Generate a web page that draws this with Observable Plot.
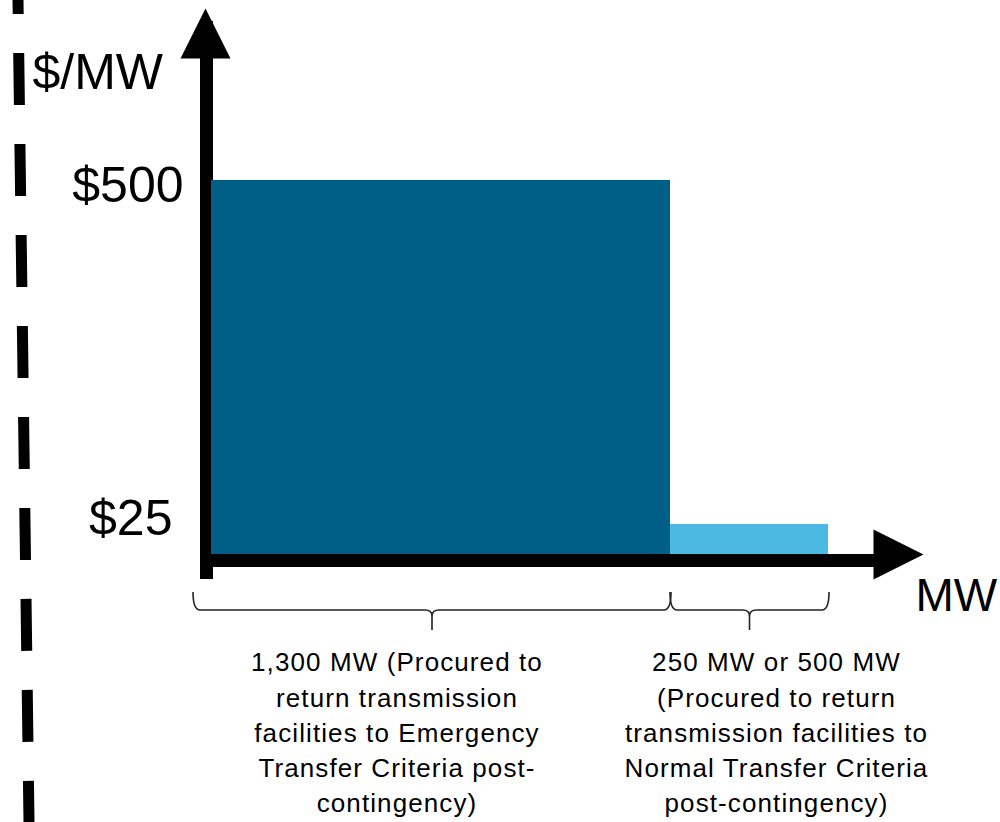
<!DOCTYPE html>
<html>
<head>
<meta charset="utf-8">
<script src="https://cdn.jsdelivr.net/npm/d3@7"></script>
<script src="https://cdn.jsdelivr.net/npm/@observablehq/plot@0.6"></script>
<style>
  html, body { margin: 0; padding: 0; background: #fff; }
  #chart svg { display: block; }
</style>
</head>
<body>
<div id="chart"></div>
<script>
// ---- data ----
const mwStart = [0, 1300];
const mwEnd = [1300, 1550];
const pricePerMW = [500, 25];
const barColors = ["#005f87", "#4bb9e1"];
const blockLabels = [
  "1,300 MW (Procured to\nreturn transmission\nfacilities to Emergency\nTransfer Criteria post-\ncontingency)",
  "250 MW or 500 MW\n(Procured to return\ntransmission facilities to\nNormal Transfer Criteria\npost-contingency)"
];
const yTickValues = [500, 25];
const yTickLabels = ["$500", "$25"];
const yAxisTitle = "$/MW";
const xAxisTitle = "MW";
const xAxisEnd = 1700;   // end of the drawn MW axis arrow
const yAxisEnd = 720;    // end of the drawn $/MW axis arrow

const bars = mwStart.map((s, i) => ({
  start: s, end: mwEnd[i], price: pricePerMW[i], color: barColors[i], label: blockLabels[i]
}));
const yTicks = yTickValues.map((v, i) => ({v, label: yTickLabels[i]}));

const sans = "'Liberation Sans', Arial, sans-serif";
const narrow = "'Liberation Sans Narrow', 'Liberation Sans', Arial, sans-serif";

// custom filled arrowheads (tip at the anchor point)
const headUp = {draw(ctx, size) { const r = Math.sqrt(size / Math.PI); ctx.moveTo(0, 0); ctx.lineTo(r, 2 * r); ctx.lineTo(-r, 2 * r); ctx.closePath(); }};
const headRight = {draw(ctx, size) { const r = Math.sqrt(size / Math.PI); ctx.moveTo(0, 0); ctx.lineTo(-2 * r, -r); ctx.lineTo(-2 * r, r); ctx.closePath(); }};

// slide divider (decoration)
function divider(index, scales, values, dimensions) {
  const g = d3.create("svg:g");
  g.append("line")
    .attr("x1", 18).attr("y1", 0)
    .attr("x2", 29).attr("y2", dimensions.height)
    .attr("stroke", "black").attr("stroke-width", 11)
    .attr("stroke-dasharray", "52,39").attr("stroke-dashoffset", 38);
  return g.node();
}

// curly braces under each block, placed with the x scale
function braces(index, scales, values, dimensions) {
  const g = d3.create("svg:g").attr("fill", "none").attr("stroke", "#222").attr("stroke-width", 1.6);
  const y0 = scales.y(0);
  const yTop = y0 + 38, yMid = y0 + 56, yTip = y0 + 76;
  bars.forEach((b, i) => {
    const x1 = scales.x(b.start) - (i === 0 ? 18 : 0);
    const x2 = scales.x(b.end) + 1;
    const c = (x1 + x2) / 2;
    const r = 7;
    const p = d3.path();
    p.moveTo(x1, yTop);
    p.quadraticCurveTo(x1, yMid, x1 + r, yMid);
    p.lineTo(c - r, yMid);
    p.quadraticCurveTo(c, yMid, c, yMid + 6);
    p.lineTo(c, yTip);
    p.moveTo(c, yMid + 6);
    p.quadraticCurveTo(c, yMid, c + r, yMid);
    p.lineTo(x2 - r, yMid);
    p.quadraticCurveTo(x2, yMid, x2, yTop);
    g.append("path").attr("d", p.toString());
  });
  return g.node();
}

const chart = Plot.plot({
  width: 1000,
  height: 822,
  margin: 0,
  style: {background: "white", fontFamily: sans, color: "black"},
  x: {type: "linear", domain: [0, ...mwEnd, xAxisEnd], range: [211, 670, 828, 923], axis: null},
  y: {type: "linear", domain: [0, ...[...pricePerMW].sort(d3.ascending), yAxisEnd], range: [554, 524, 180, 8], axis: null},
  color: {type: "identity"},
  marks: [
    divider,
    // axis shafts
    Plot.ruleX([0], {x: d => d, y1: 0, y2: yAxisEnd, dx: -5, stroke: "black", strokeWidth: 13, insetTop: 25, insetBottom: -13}),
    Plot.ruleY([0], {y: d => d, x1: 0, x2: xAxisEnd, dy: 6, stroke: "black", strokeWidth: 13, insetLeft: -9, insetRight: 25}),
    // bars
    Plot.rect(bars, {x1: "start", x2: "end", y1: 0, y2: "price", fill: "color"}),
    // arrowheads
    Plot.dot([yAxisEnd], {x: 0, y: d => d, dx: -6, symbol: headUp, r: 25, fill: "black", stroke: "none"}),
    Plot.dot([xAxisEnd], {x: d => d, y: 0, symbol: headRight, r: 25, fill: "black", stroke: "none"}),
    // y tick labels
    Plot.text([yTicks[0]], {x: 0, y: "v", text: "label", textAnchor: "end", dx: -28, dy: 5, fontSize: 50, fontFamily: sans, fill: "black"}),
    Plot.text([yTicks[1]], {x: 0, y: "v", text: "label", textAnchor: "end", dx: -39, dy: -6, fontSize: 50, fontFamily: sans, fill: "black"}),
    // axis titles
    Plot.text([yAxisTitle], {x: 0, y: yAxisEnd, text: d => d, textAnchor: "start", dx: -179, dy: 64, fontSize: 50, fontFamily: sans, fill: "black"}),
    Plot.text([xAxisTitle], {x: xAxisEnd, y: 0, text: d => d, textAnchor: "start", dx: -8, dy: 42, fontSize: 46, fontFamily: sans, fill: "black"}),
    // braces
    braces,
    // block descriptions
    Plot.text([bars[0]], {x: d => (d.start + d.end) / 2, y: 0, text: "label", lineAnchor: "top", dx: -44, dy: 92, lineHeight: 1.35, fontSize: 26, fontFamily: narrow, fill: "black"}),
    Plot.text([bars[1]], {x: d => (d.start + d.end) / 2, y: 0, text: "label", lineAnchor: "top", dx: 27, dy: 92, lineHeight: 1.35, fontSize: 26, fontFamily: narrow, fill: "black"})
  ]
});

d3.select(chart).selectAll("g[font-family*='Narrow'] text").style("letter-spacing", "1.1px");
document.getElementById("chart").append(chart);
</script>
</body>
</html>
